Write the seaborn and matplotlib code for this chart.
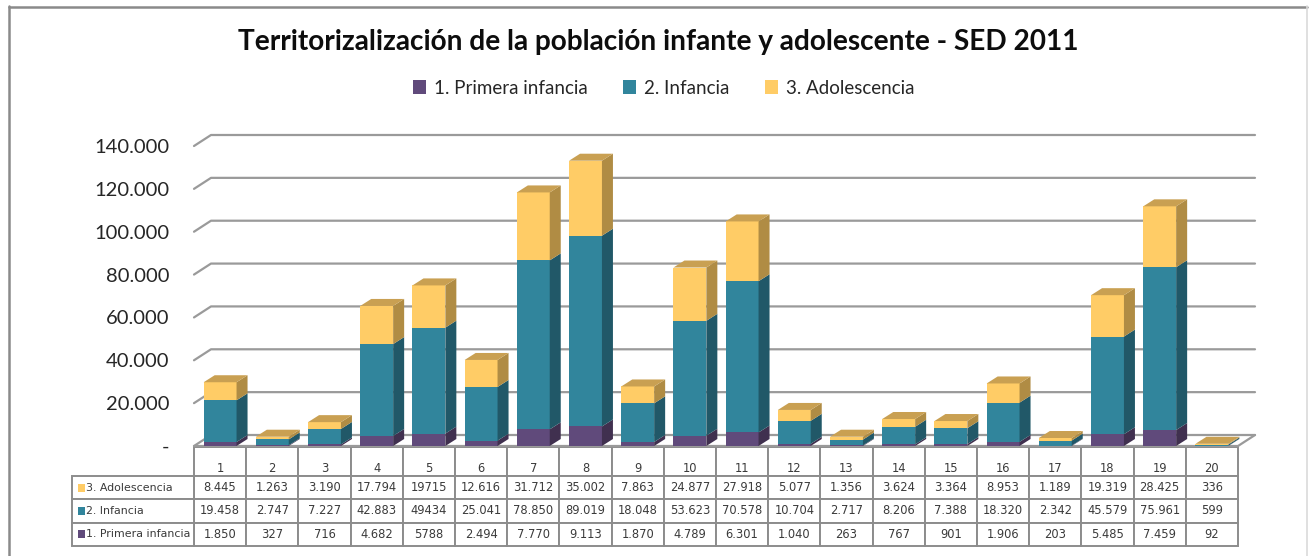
import numpy as np
import pandas as pd
import matplotlib
matplotlib.use("Agg")
import matplotlib.pyplot as plt
from matplotlib.patches import Polygon, Rectangle, Patch
from matplotlib.lines import Line2D
import seaborn as sns

# ---------------- data ----------------
localidades = [str(i) for i in range(1, 21)]
series_names = ["1. Primera infancia", "2. Infancia", "3. Adolescencia"]
primera_infancia = [1850, 327, 716, 4682, 5788, 2494, 7770, 9113, 1870, 4789,
                    6301, 1040, 263, 767, 901, 1906, 203, 5485, 7459, 92]
infancia = [19458, 2747, 7227, 42883, 49434, 25041, 78850, 89019, 18048, 53623,
            70578, 10704, 2717, 8206, 7388, 18320, 2342, 45579, 75961, 599]
adolescencia = [8445, 1263, 3190, 17794, 19715, 12616, 31712, 35002, 7863, 24877,
                27918, 5077, 1356, 3624, 3364, 8953, 1189, 19319, 28425, 336]
y_ticks = [0, 20000, 40000, 60000, 80000, 100000, 120000, 140000]
y_ticklabels = ["-", "20.000", "40.000", "60.000", "80.000", "100.000", "120.000", "140.000"]
title = "Territorizalización de la población infante y adolescente - SED 2011"

# ---------------- style ----------------
sns.set_style("white")
plt.rcParams["font.family"] = ["Lato", "DejaVu Sans"]

c_front = ["#604A7B", "#31859C", "#FFCC66"]
c_side = ["#40304F", "#215868", "#B08C44"]
c_top = ["#4E3C66", "#2A7385", "#C9A052"]

W, H = 1309, 556
AXW, AXH = 1044, 300
fig = plt.figure(figsize=(W / 100, H / 100), dpi=100)
ax = fig.add_axes([194 / W, 1 - 446 / H, AXW / W, AXH / H])

df = pd.DataFrame({"loc": localidades, "p": primera_infancia, "i": infancia, "a": adolescencia})
df["c1"] = df["p"]
df["c2"] = df["p"] + df["i"]
df["c3"] = df["p"] + df["i"] + df["a"]

bw = 0.63
for col, color in zip(["c3", "c2", "c1"], c_front[::-1]):
    sns.barplot(data=df, x="loc", y=col, order=localidades, color=color, width=bw,
                saturation=1, linewidth=0, ax=ax, zorder=3, errorbar=None)

ax.set_xlim(-0.5, 19.5)
ax.set_ylim(0, 140000)
ax.set_xlabel("")
ax.set_ylabel("")
ax.set_xticks([])
ax.set_yticks(y_ticks)
ax.set_yticklabels(y_ticklabels, fontsize=14.5, color="#262626")
ax.tick_params(axis="y", length=0, pad=18)
for s in ax.spines.values():
    s.set_visible(False)

# ---- pseudo 3D helpers ----
fig.canvas.draw()
T = ax.transData
Ti = T.inverted()


def off(x, y, ox, oy):
    px = T.transform((x, y))
    return tuple(Ti.transform((px[0] + ox, px[1] + oy)))


# back wall gridlines
gdx, gdy = 17, 11
gcol = "#9A9A9A"
for yv in y_ticks:
    p0 = (-0.5, yv)
    p1 = off(-0.5, yv, gdx, gdy)
    p2 = off(19.5, yv, gdx, gdy)
    ax.add_line(Line2D([p0[0], p1[0], p2[0]], [p0[1], p1[1], p2[1]], color=gcol,
                       lw=1.6, zorder=1, clip_on=False))
# floor front edge and right edge
pr = off(19.5, 0, gdx, gdy)
ax.add_line(Line2D([-0.5, 19.5, pr[0]], [0, 0, pr[1]], color=gcol, lw=1.6, zorder=1, clip_on=False))

# bar depth faces
bdx, bdy = 11, 7
for k in range(len(localidades)):
    xr = k + bw / 2
    xl = k - bw / 2
    bounds = [0, df["c1"][k], df["c2"][k], df["c3"][k]]
    for j in range(3):
        y0, y1 = bounds[j], bounds[j + 1]
        if y1 <= y0:
            continue
        verts = [(xr, y0), (xr, y1), off(xr, y1, bdx, bdy), off(xr, y0, bdx, bdy)]
        ax.add_patch(Polygon(verts, closed=True, facecolor=c_side[j], edgecolor="none",
                             zorder=3, clip_on=False))
    yt = bounds[3]
    verts = [(xl, yt), (xr, yt), off(xr, yt, bdx, bdy), off(xl, yt, bdx, bdy)]
    ax.add_patch(Polygon(verts, closed=True, facecolor=c_top[2], edgecolor="none",
                         zorder=3, clip_on=False))

# ---------------- data table ----------------
def fmt(v, col):
    if col == 4:
        return str(v)
    return f"{v:,}".replace(",", ".")


rows = [adolescencia, infancia, primera_infancia]
row_labels = ["3. Adolescencia", "2. Infancia", "1. Primera infancia"]
cell_text = [[fmt(v, c) for c, v in enumerate(r)] for r in rows]
tab_labels = localidades.copy()

hdr_h, row_h = 29 / AXH, 23.3 / AXH
col_w, lab_w = 52.2 / AXW, 122 / AXW
tot_h = hdr_h + 3 * row_h
tbl = ax.table(cellText=cell_text, colLabels=tab_labels, cellLoc="center",
               bbox=[0, -1 / AXH - tot_h, 20 * col_w, tot_h])
tbl.auto_set_font_size(False)
tbl.set_fontsize(8.3)
for (r, c), cell in tbl.get_celld().items():
    cell.set_edgecolor("#8C8C8C")
    cell.set_linewidth(1.4)
    cell.set_height(hdr_h if r == 0 else row_h)
    cell.set_width(col_w)
    cell.get_text().set_color("#3A3A3A")
    cell.get_text().set_fontfamily("DejaVu Sans")
    if r == 0:
        cell.get_text().set_va("top")

# row-label column with colour squares
for i, (colr, lab) in enumerate(zip(c_front[::-1], row_labels)):
    top = -1 / AXH - hdr_h - i * row_h
    ax.add_patch(Rectangle((-lab_w, top - row_h), lab_w, row_h, transform=ax.transAxes,
                           facecolor="white", edgecolor="#8C8C8C", lw=1.4,
                           clip_on=False, zorder=4))
    yc = top - row_h / 2
    ax.add_patch(Rectangle((-lab_w + 5.5 / AXW, yc - 4 / AXH), 7.5 / AXW, 8 / AXH,
                           transform=ax.transAxes, facecolor=colr, edgecolor="none",
                           clip_on=False, zorder=5))
    ax.text(-lab_w + 14 / AXW, yc, lab, transform=ax.transAxes,
            ha="left", va="center", fontsize=7.9, family="DejaVu Sans", color="#3A3A3A",
            clip_on=False, zorder=6)

# ---------------- title & legend ----------------
fig.text(0.5025, 1 - 42 / H, title, ha="center", va="center", fontsize=20.2,
         fontweight="bold", color="#0D0D0D")
handles = [Patch(facecolor=c, edgecolor="none") for c in c_front]
fig.legend(handles, series_names, loc="center", bbox_to_anchor=(0.507, 1 - 88 / H),
           ncol=3, frameon=False, fontsize=13.5, handlelength=0.7, handleheight=0.7,
           handletextpad=0.4, columnspacing=1.9, labelcolor="#262626")

# figure border
fig.add_artist(Line2D([8.5 / W, 8.5 / W], [0, 1 - 6 / H], color="#8A8A8A", lw=1.8))
fig.add_artist(Line2D([8.5 / W, 1307 / W], [1 - 6.5 / H, 1 - 6.5 / H], color="#8A8A8A", lw=1.8))
fig.add_artist(Line2D([1307 / W, 1307 / W], [0, 1 - 6 / H], color="#DADADA", lw=1.2))

fig.savefig("out.png", dpi=100)
